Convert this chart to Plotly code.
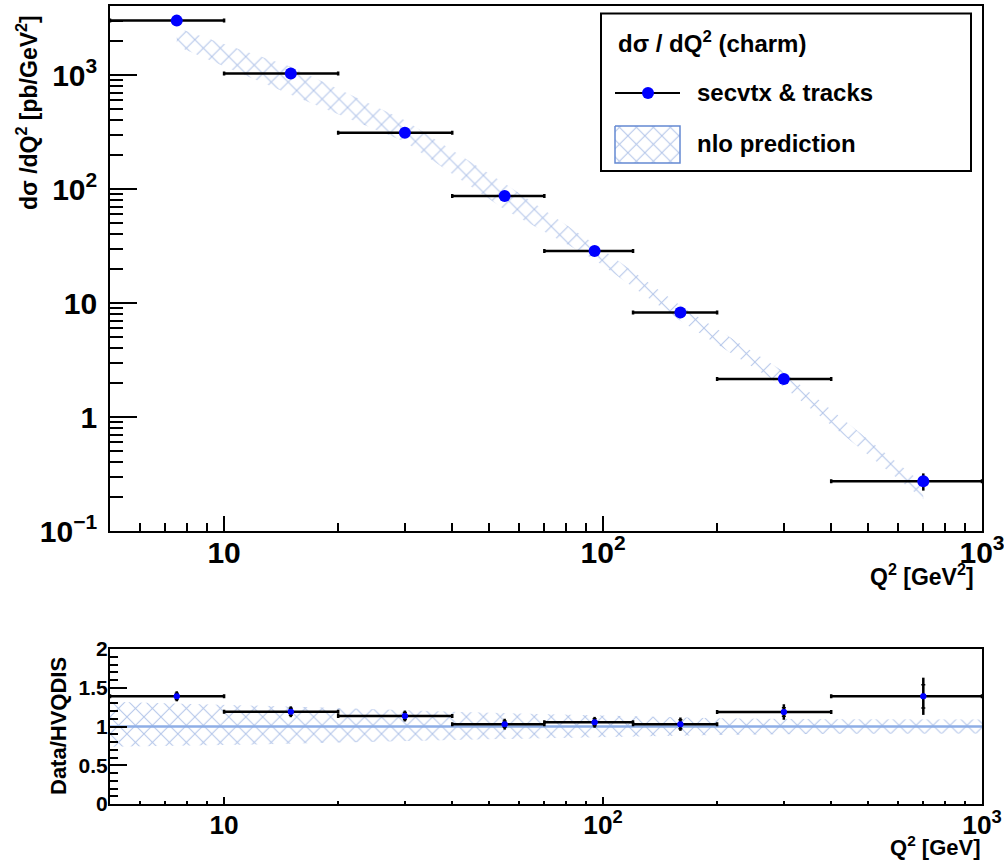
import math
import plotly.graph_objects as go

# ---------------- data ----------------
q2_center = [7.5, 15, 30, 55, 95, 160, 300, 700]
q2_low = [5, 10, 20, 40, 70, 120, 200, 400]
q2_high = [10, 20, 40, 70, 120, 200, 400, 1000]

dsig = [3000, 1030, 312, 87, 28.6, 8.24, 2.15, 0.273]
dsig_err = [140, 61, 19, 5.9, 1.9, 0.69, 0.18, 0.047]

nlo_hi = [2600, 1180, 400, 112, 33, 9.5, 2.5, 0.26]
nlo_lo = [1800, 670, 260, 66, 24, 7.0, 1.83, 0.19]

ratio = [1.39, 1.19, 1.135, 1.03, 1.054, 1.03, 1.187, 1.39]
ratio_err_tot = [0.065, 0.07, 0.07, 0.07, 0.07, 0.086, 0.10, 0.24]
ratio_err_stat = [0.04, 0.045, 0.045, 0.04, 0.045, 0.058, 0.055, 0.15]

band_q2 = [5, 10, 20, 40, 70, 120, 200, 400, 1000]
band_hi = [1.32, 1.28, 1.24, 1.19, 1.16, 1.135, 1.105, 1.095, 1.09]
band_lo = [0.74, 0.76, 0.79, 0.825, 0.85, 0.875, 0.89, 0.905, 0.91]
band_ref = [1.0] * len(band_q2)

legend_title = "dσ / dQ<sup>2</sup> (charm)"
legend_data = "secvtx & tracks"
legend_nlo = "nlo prediction"

# ---------------- styling ----------------
W, H = 1004, 863
FONT = "Liberation Sans, Arial, Helvetica, sans-serif"
HATCH = "#6489d2"
REFLINE = "#8eaee6"
PATTERN = dict(shape="x", fgcolor=HATCH, bgcolor="rgba(0,0,0,0)",
               size=12, solidity=0.16)

xerr_plus = [h - c for h, c in zip(q2_high, q2_center)]
xerr_minus = [c - l for c, l in zip(q2_center, q2_low)]


def fx(p):
    return p / W


def fy(p):
    return 1 - p / H


x_dom = [fx(110), fx(982)]
top_dom = [fy(531), fy(5.7)]
bot_dom = [fy(804), fy(649)]

fig = go.Figure()

# ---- top panel: NLO band ----
fig.add_trace(go.Scatter(
    x=q2_center + q2_center[::-1],
    y=nlo_hi + nlo_lo[::-1],
    xaxis="x", yaxis="y",
    mode="lines", line=dict(width=0, color=HATCH),
    fill="toself", fillcolor="rgba(0,0,0,0)",
    fillpattern=PATTERN,
    hoverinfo="skip", showlegend=False,
))

# ---- top panel: data ----
fig.add_trace(go.Scatter(
    x=q2_center, y=dsig, xaxis="x", yaxis="y",
    mode="markers",
    marker=dict(color="#0000ff", size=12, symbol="circle"),
    error_x=dict(type="data", symmetric=False, array=xerr_plus,
                 arrayminus=xerr_minus, color="black", thickness=2.5, width=2),
    error_y=dict(type="data", array=dsig_err, color="black",
                 thickness=2.5, width=0),
    showlegend=False,
))

# ---- bottom panel: band ----
fig.add_trace(go.Scatter(
    x=band_q2 + band_q2[::-1],
    y=band_hi + band_lo[::-1],
    xaxis="x2", yaxis="y2",
    mode="lines", line=dict(width=0, color=HATCH),
    fill="toself", fillcolor="rgba(0,0,0,0)",
    fillpattern=PATTERN,
    hoverinfo="skip", showlegend=False,
))
fig.add_trace(go.Scatter(
    x=band_q2, y=band_ref, xaxis="x2", yaxis="y2",
    mode="lines", line=dict(color=REFLINE, width=2.5),
    hoverinfo="skip", showlegend=False,
))

# ---- bottom panel: ratio points ----
fig.add_trace(go.Scatter(
    x=q2_center, y=ratio, xaxis="x2", yaxis="y2",
    mode="markers",
    marker=dict(color="#0000ff", size=6),
    error_x=dict(type="data", symmetric=False, array=xerr_plus,
                 arrayminus=xerr_minus, color="black", thickness=2.5, width=2),
    error_y=dict(type="data", array=ratio_err_tot, color="black",
                 thickness=2.5, width=0),
    showlegend=False,
))
fig.add_trace(go.Scatter(
    x=q2_center, y=ratio, xaxis="x2", yaxis="y2",
    mode="markers",
    marker=dict(color="#0000ff", size=6),
    error_y=dict(type="data", array=ratio_err_stat, color="black",
                 thickness=1.5, width=2),
    showlegend=False,
))

# ---- legend glyphs (overlay axes in figure-pixel fractions) ----
fig.add_trace(go.Scatter(
    x=[fx(615), fx(680)], y=[fy(93), fy(93)], xaxis="x3", yaxis="y3",
    mode="lines", line=dict(color="black", width=2),
    hoverinfo="skip", showlegend=False,
))
fig.add_trace(go.Scatter(
    x=[fx(648)], y=[fy(93)], xaxis="x3", yaxis="y3",
    mode="markers", marker=dict(color="#0000ff", size=12),
    hoverinfo="skip", showlegend=False,
))
fig.add_trace(go.Scatter(
    x=[fx(615), fx(680), fx(680), fx(615), fx(615)],
    y=[fy(126), fy(126), fy(163), fy(163), fy(126)],
    xaxis="x3", yaxis="y3",
    mode="lines", line=dict(color=HATCH, width=1.5),
    fill="toself", fillcolor="rgba(0,0,0,0)",
    fillpattern=PATTERN,
    hoverinfo="skip", showlegend=False,
))

axis_common = dict(
    showline=True, linecolor="black", linewidth=2, mirror=True,
    ticks="inside", tickcolor="black", tickwidth=2,
    showgrid=False, zeroline=False, ticklabeloverflow="allow",
)


def tfont(size):
    return dict(family=FONT, size=size, color="black", weight="bold")


fig.update_layout(
    width=W, height=H,
    margin=dict(l=0, r=0, t=0, b=0, autoexpand=False),
    paper_bgcolor="white", plot_bgcolor="rgba(0,0,0,0)",
    showlegend=False,
    xaxis=dict(
        axis_common, type="log", domain=x_dom, anchor="y",
        range=[math.log10(5), 3], tickmode="linear", tick0=0, dtick=1,
        exponentformat="power", ticklen=15, tickfont=tfont(24),
        ticklabelstandoff=-5,
        minor=dict(dtick="D1", ticks="inside", ticklen=8, tickwidth=2,
                   tickcolor="black", showgrid=False),
    ),
    yaxis=dict(
        axis_common, type="log", domain=top_dom, anchor="x",
        range=[-1, 3.608], tickmode="linear", tick0=0, dtick=1,
        exponentformat="power", ticklen=27, tickfont=tfont(24),
        ticklabelstandoff=6,
        minor=dict(dtick="D1", ticks="inside", ticklen=13, tickwidth=2,
                   tickcolor="black", showgrid=False),
    ),
    xaxis2=dict(
        axis_common, type="log", domain=x_dom, anchor="y2",
        range=[math.log10(5), 3], tickmode="linear", tick0=0, dtick=1,
        exponentformat="power", ticklen=7, tickfont=tfont(21),
        ticklabelstandoff=-2,
        minor=dict(dtick="D1", ticks="inside", ticklen=3, tickwidth=2,
                   tickcolor="black", showgrid=False),
    ),
    yaxis2=dict(
        axis_common, domain=bot_dom, anchor="x2",
        range=[0, 2], tickmode="linear", tick0=0, dtick=0.5,
        ticklen=17, tickfont=tfont(21), ticklabelstandoff=-4,
        minor=dict(dtick=0.1, ticks="inside", ticklen=8, tickwidth=2,
                   tickcolor="black", showgrid=False),
    ),
    xaxis3=dict(domain=[0, 1], range=[0, 1], anchor="y3", visible=False,
                fixedrange=True),
    yaxis3=dict(domain=[0, 1], range=[0, 1], anchor="x3", visible=False,
                fixedrange=True),
)

# legend box
fig.add_shape(type="rect", xref="paper", yref="paper",
              x0=fx(601), x1=fx(971), y0=fy(171), y1=fy(13.5),
              line=dict(color="black", width=2), fillcolor="rgba(0,0,0,0)")

ann = []
ann.append(dict(text="<b>" + legend_title + "</b>", x=fx(616), y=fy(42),
                xanchor="left", yanchor="middle", font=tfont(24)))
ann.append(dict(text="<b>" + legend_data + "</b>", x=fx(695), y=fy(93),
                xanchor="left", yanchor="middle", font=tfont(24)))
ann.append(dict(text="<b>" + legend_nlo + "</b>", x=fx(695), y=fy(143),
                xanchor="left", yanchor="middle", font=tfont(24)))
# axis titles
ann.append(dict(text="<b>dσ /dQ<sup>2</sup> [pb/GeV<sup>2</sup>]</b>",
                x=fx(27), y=fy(113), textangle=-90,
                xanchor="center", yanchor="middle", font=tfont(23)))
ann.append(dict(text="<b>Q<sup>2</sup> [GeV<sup>2</sup>]</b>",
                x=fx(976), y=fy(575), xanchor="right", yanchor="middle",
                font=tfont(23)))
ann.append(dict(text="<b>Data/HVQDIS</b>", x=fx(58), y=fy(726),
                textangle=-90, xanchor="center", yanchor="middle",
                font=tfont(22)))
ann.append(dict(text="<b>Q<sup>2</sup> [GeV]</b>", x=fx(982), y=fy(846),
                xanchor="right", yanchor="middle", font=tfont(22)))
for a in ann:
    a.update(xref="paper", yref="paper", showarrow=False)
fig.update_layout(annotations=ann)

fig.write_html(
    "out.html",
    config={"displayModeBar": False},
    post_script="document.body.style.margin='0';"
                "document.body.style.padding='0';"
                "document.body.style.overflow='hidden';",
)
